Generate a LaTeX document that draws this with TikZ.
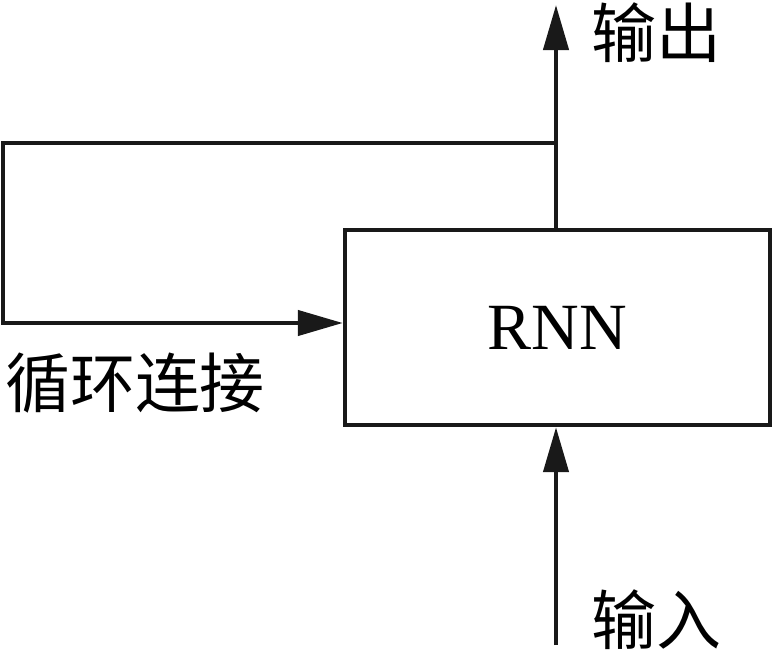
\documentclass[tikz,border=0pt]{standalone}
\usepackage{fontspec}
\setmainfont{Liberation Serif}
\newfontfamily\cjk{Noto Sans CJK SC}
\usetikzlibrary{arrows.meta,positioning}

\tikzset{
  line/.style={draw=black!90, line width=2.2pt},
  arr/.style={line, -{Triangle[length=22.5pt,width=12.5pt]}},
  block/.style={line, minimum width=212.5pt, minimum height=97.5pt, inner sep=0pt,
    font=\fontsize{33}{33}\selectfont},
  lbl/.style={font=\cjk\fontsize{32.5}{32.5}\selectfont, inner sep=0pt}
}

\begin{document}
\begin{tikzpicture}[x=0.5pt, y=-0.5pt]
  \useasboundingbox (0,0) rectangle (772,653);
  % the block
  \node[block] (rnn) at (557.5,327.5) {RNN};
  % fixed points of the connectors
  \coordinate (outtop) at (556,5);
  \coordinate (tap) at (556,143);
  \coordinate (loopa) at (3,143);
  \coordinate (loopb) at (3,323);
  \coordinate (inbot) at (556,645);
  % output
  \draw[arr] (rnn.north -| outtop) -- (outtop);
  % loop back
  \draw[arr] (tap) -- (loopa) -- (loopb) -- (loopb -| rnn.west);
  % input
  \draw[arr] (inbot) -- (inbot |- rnn.south);
  % labels
  \node[lbl] (outlbl) at (656,33) {输出};
  \node[lbl] (looplbl) at (135,383) {循环连接};
  \node[lbl] (inlbl) at (656,620) {输入};
\end{tikzpicture}
\end{document}
